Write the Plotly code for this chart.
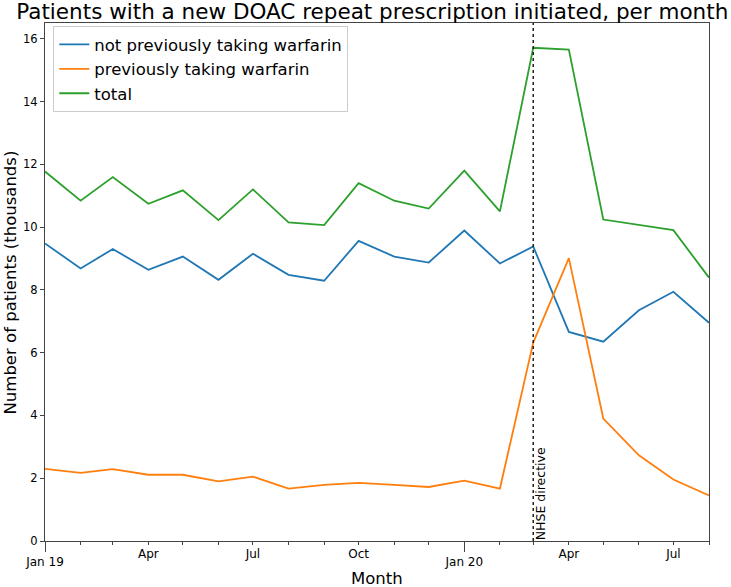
import plotly.graph_objects as go

months = ["2019-01-01", "2019-02-01", "2019-03-01", "2019-04-01", "2019-05-01",
          "2019-06-01", "2019-07-01", "2019-08-01", "2019-09-01", "2019-10-01",
          "2019-11-01", "2019-12-01", "2020-01-01", "2020-02-01", "2020-03-01",
          "2020-04-01", "2020-05-01", "2020-06-01", "2020-07-01", "2020-08-01"]

not_prev_warfarin = [9.48, 8.68, 9.30, 8.64, 9.06, 8.32, 9.15, 8.48, 8.29, 9.56,
                     9.06, 8.87, 9.89, 8.84, 9.38, 6.66, 6.35, 7.35, 7.94, 6.95]
prev_warfarin = [2.30, 2.17, 2.29, 2.11, 2.11, 1.90, 2.05, 1.67, 1.79, 1.85,
                 1.79, 1.72, 1.92, 1.67, 6.32, 9.01, 3.90, 2.73, 1.96, 1.45]
total = [11.77, 10.84, 11.59, 10.74, 11.17, 10.22, 11.20, 10.15, 10.06, 11.40,
         10.84, 10.59, 11.80, 10.50, 15.71, 15.65, 10.24, 10.06, 9.90, 8.39]

series_names = ["not previously taking warfarin", "previously taking warfarin", "total"]
series_colors = ["#1f77b4", "#ff7f0e", "#2ca02c"]

year_ticks = ["2019-01-01", "2020-01-01"]
year_labels = ["Jan 19", "Jan 20"]
month_labels = ["", "", "", "Apr", "", "", "Jul", "", "", "Oct", "", "",
                "", "", "", "Apr", "", "", "Jul", ""]
y_ticks = [0, 2, 4, 6, 8, 10, 12, 14, 16]

directive_date = "2020-03-01"
directive_label = "NHSE directive"

FONT = "DejaVu Sans"
AX = "#444444"

fig = go.Figure()
for name, vals, col in zip(series_names, [not_prev_warfarin, prev_warfarin, total], series_colors):
    fig.add_trace(go.Scatter(x=months, y=vals, mode="lines", name=name,
                             legendgroup=name,
                             line=dict(color=col, width=1.8)))

# directive marker (dotted vertical line) on the overlay month axis
fig.add_trace(go.Scatter(x=[directive_date, directive_date], y=[0, 16.5], mode="lines",
                         xaxis="x2", showlegend=False, hoverinfo="skip",
                         line=dict(color="#222222", width=1.5, dash="dot")))

fig.add_annotation(x=directive_date, y=0, xref="x", yref="y", text=directive_label,
                   textangle=-90, showarrow=False, xanchor="left", yanchor="bottom",
                   borderpad=0, xshift=-1,
                   font=dict(family=FONT, size=12.5, color="#000000"))

fig.add_annotation(x=0.5, y=-0.072, xref="paper", yref="paper", text="Month",
                   showarrow=False, xanchor="center", yanchor="middle",
                   font=dict(family=FONT, size=16.5, color="#000000"))
fig.add_annotation(x=-0.052, y=0.5, xref="paper", yref="paper",
                   text="Number of patients (thousands)", textangle=-90,
                   showarrow=False, xanchor="center", yanchor="middle",
                   font=dict(family=FONT, size=16.5, color="#000000"))

fig.update_layout(
    width=731, height=587,
    margin=dict(l=44.5, r=22, t=23, b=46),
    paper_bgcolor="white", plot_bgcolor="white",
    font=dict(family=FONT, size=12, color="#000000"),
    title=dict(text="Patients with a new DOAC repeat prescription initiated, per month",
               x=0.4929, xref="paper", xanchor="center",
               y=1 - 11.5 / 587, yref="container", yanchor="middle",
               font=dict(family=FONT, size=21.5, color="#000000")),
    showlegend=True,
    legend=dict(x=0.0125, y=0.994, xanchor="left", yanchor="top",
                bgcolor="rgba(255,255,255,0.8)", bordercolor="#cccccc", borderwidth=1,
                tracegroupgap=0,
                font=dict(family=FONT, size=16.5, color="#000000")),
    xaxis=dict(type="date", range=[months[0], months[-1]],
               tickmode="array", tickvals=year_ticks, ticktext=year_labels,
               ticks="outside", ticklen=10, tickwidth=1, tickcolor=AX,
               showline=True, linecolor=AX, linewidth=1, mirror=True,
               showgrid=False, zeroline=False,
               tickfont=dict(family=FONT, size=12, color="#000000")),
    xaxis2=dict(type="date", range=[months[0], months[-1]], overlaying="x",
                anchor="y", side="bottom",
                tickmode="array", tickvals=months, ticktext=month_labels,
                ticks="outside", ticklen=2.5, tickwidth=1, tickcolor=AX,
                ticklabelstandoff=-1,
                showline=False, showgrid=False, zeroline=False,
                tickfont=dict(family=FONT, size=12, color="#000000")),
    yaxis=dict(range=[0, 16.5], tickmode="array", tickvals=y_ticks,
               ticks="outside", ticklen=4, tickwidth=1, tickcolor=AX,
               showline=True, linecolor=AX, linewidth=1, mirror=True,
               showgrid=False, zeroline=False,
               tickfont=dict(family=FONT, size=11.5, color="#000000")),
)

fig.write_html("out.html", config={"displayModeBar": False},
               post_script="document.body.style.margin='0px';")
